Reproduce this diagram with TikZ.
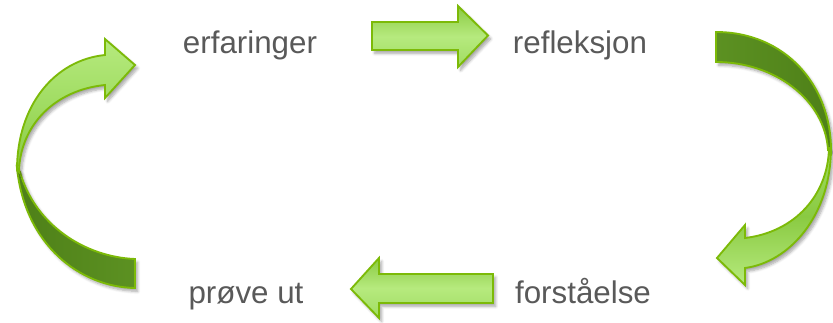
\documentclass[tikz,border=0pt]{standalone}
\usepackage{fontspec}
\setmainfont{Liberation Sans}
\usetikzlibrary{shadows.blur}
\definecolor{edgegreen}{RGB}{124,186,8}
\definecolor{lightA}{RGB}{138,202,66}
\definecolor{lightB}{RGB}{182,234,126}
\definecolor{lightC}{RGB}{160,220,98}
\definecolor{darkA}{RGB}{78,128,24}
\definecolor{darkB}{RGB}{92,145,34}
\definecolor{txtgray}{RGB}{89,89,89}
\tikzset{
  arrowshape/.style={draw=edgegreen, line width=1.4pt, line join=miter,
    top color=lightA, bottom color=lightC, middle color=lightB,
    blur shadow={shadow xshift=2pt, shadow yshift=-2.5pt, shadow blur steps=6, shadow opacity=35}},
  backshape/.style={draw=edgegreen, line width=1.4pt,
    left color=darkA, right color=darkB,
    blur shadow={shadow xshift=2pt, shadow yshift=-2.5pt, shadow blur steps=6, shadow opacity=35}},
  label/.style={text=txtgray, font=\fontsize{23.5}{28}\selectfont, anchor=base, inner sep=0pt}
}
\begin{document}
\begin{tikzpicture}[x=0.75pt,y=-0.75pt]
\useasboundingbox (0,0) rectangle (833,322);

% labels
\node[label] (erf) at (250,53) {erfaringer};
\node[label] (ref) at (580,53) {refleksjon};
\node[label] (for) at (583,303) {forståelse};
\node[label] (pro) at (246,303) {prøve ut};

% top straight arrow (right)
\path[arrowshape] (372,22) -- (458,22) -- (458,6) -- (488,35.5) -- (458,67) -- (458,50) -- (372,50) -- cycle;

% bottom straight arrow (left)
\path[arrowshape] (493,274) -- (379,274) -- (379,258) -- (351,289) -- (379,318) -- (379,303) -- (493,303) -- cycle;

% left curved arrow: back (dark) part
\path[backshape] (135,288) .. controls (80,287) and (25,245) .. (17,168)
  -- (20,172) .. controls (35,225) and (85,257) .. (135,259) -- cycle;
% left curved arrow: front (light) part
\path[arrowshape, top color=lightB, bottom color=lightA, middle color=lightC]
  (17,170) .. controls (17,105) and (55,60) .. (105,55)
  -- (105,39) -- (135,65) -- (105,98) -- (105,85)
  .. controls (55,90) and (20,125) .. (19,172) -- cycle;

% right curved arrow: back (dark) part
\path[backshape, left color=darkB, right color=darkA] (716,32) .. controls (785,32) and (831,85) .. (831,150)
  -- (828,150) .. controls (825,100) and (775,62) .. (716,62) -- cycle;
% right curved arrow: front (light) part
\path[arrowshape, top color=lightC, bottom color=lightB, middle color=lightA]
  (831,148) .. controls (831,215) and (790,262) .. (745,268)
  -- (745,285) -- (717,258) -- (745,225) -- (745,238)
  .. controls (795,232) and (828,195) .. (829,148) -- cycle;
\end{tikzpicture}
\end{document}
